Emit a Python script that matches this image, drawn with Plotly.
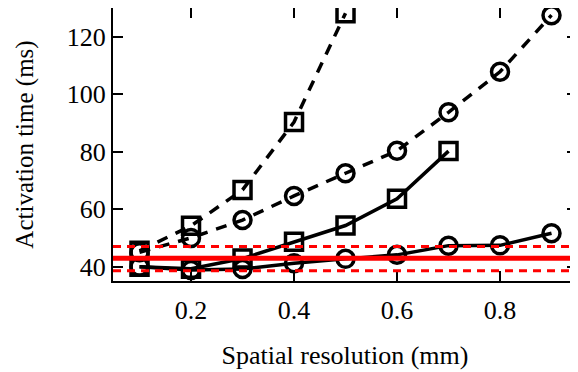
import plotly.graph_objects as go

# Data
x_a = [0.1, 0.2, 0.3, 0.4, 0.5]
y_a = [45.5, 54.2, 66.7, 90.3, 128.2]          # dashed, squares

x_b = [0.1, 0.2, 0.3, 0.4, 0.5, 0.6, 0.7, 0.8, 0.9]
y_b = [45.0, 50.0, 56.2, 64.6, 72.5, 80.3, 93.7, 107.8, 127.5]  # dashed, circles

x_c = [0.1, 0.2, 0.3, 0.4, 0.5, 0.6, 0.7]
y_c = [40.0, 39.3, 42.8, 48.7, 54.3, 63.6, 80.2]  # solid, squares

x_d = [0.1, 0.2, 0.3, 0.4, 0.5, 0.6, 0.7, 0.8, 0.9]
y_d = [40.0, 38.8, 39.2, 41.2, 42.7, 44.1, 47.3, 47.4, 51.6]  # solid, circles

ref_mean = 42.9
ref_bounds = [47.0, 38.6]

x_ticks = [0.2, 0.4, 0.6, 0.8]
y_ticks = [40, 60, 80, 100, 120]

FONT = "Liberation Serif, Times New Roman, serif"
FS = 26
fig = go.Figure()

fig.add_hline(y=ref_mean, line=dict(color="#ff0000", width=5))
for yb in ref_bounds:
    fig.add_hline(y=yb, line=dict(color="#ff0000", width=3, dash="8px,6px"))

def add(xs, ys, dash, symbol):
    fig.add_trace(go.Scatter(
        x=xs, y=ys, mode="lines+markers",
        line=dict(color="black", width=3.5, dash=dash),
        marker=dict(symbol=symbol, size=17, color="black",
                    line=dict(color="black", width=3.5)),
        showlegend=False, cliponaxis=True))

add(x_a, y_a, "11px,9px", "square-open")
add(x_b, y_b, "11px,9px", "circle-open")
add(x_c, y_c, "solid", "square-open")
add(x_d, y_d, "solid", "circle-open")

axis_common = dict(
    showgrid=False, zeroline=False, showline=True, mirror="allticks",
    linecolor="black", linewidth=2, ticks="inside", ticklen=10,
    tickwidth=1.5, tickcolor="black", automargin=False,
    tickfont=dict(family=FONT, size=FS, color="black"),
)

fig.update_xaxes(range=[0.0485, 0.9495], tickvals=x_ticks,
                 ticktext=[f"{v:.1f}" for v in x_ticks],
                 ticklabelstandoff=5,
                 title=dict(text="Spatial resolution (mm)",
                            font=dict(family=FONT, size=FS, color="black"),
                            standoff=22),
                 **axis_common)
fig.update_yaxes(range=[35, 130], tickvals=y_ticks,
                 title=dict(text="Activation time (ms)",
                            font=dict(family=FONT, size=25, color="black"),
                            standoff=26),
                 **axis_common)

fig.update_layout(
    width=578, height=372,
    margin=dict(l=105, r=9, t=0, b=99, autoexpand=False),
    plot_bgcolor="white", paper_bgcolor="white",
)

fig.write_html("out.html")
